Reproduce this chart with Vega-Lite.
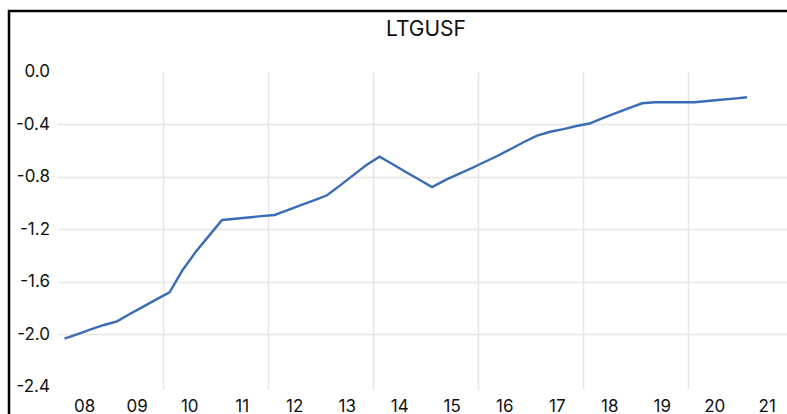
{
  "$schema": "https://vega.github.io/schema/vega-lite/v6.json",
  "autosize": "none",
  "width": 778,
  "height": 403,
  "padding": {"left": 9, "top": 11, "right": 0, "bottom": 0},
  "background": "white",
  "title": {
    "text": "LTGUSF",
    "frame": "group",
    "anchor": "middle",
    "dx": 28,
    "dy": 45.8,
    "offset": 0,
    "baseline": "alphabetic",
    "font": "Inter",
    "fontSize": 21,
    "fontWeight": "normal",
    "color": "#111111"
  },
  "data": {
    "values": [
      {"year": 2008.125, "value": -2.033},
      {"year": 2008.375, "value": -1.999},
      {"year": 2008.625, "value": -1.963},
      {"year": 2008.875, "value": -1.929},
      {"year": 2009.125, "value": -1.901},
      {"year": 2009.375, "value": -1.844},
      {"year": 2009.625, "value": -1.789},
      {"year": 2009.875, "value": -1.734},
      {"year": 2010.125, "value": -1.680},
      {"year": 2010.375, "value": -1.510},
      {"year": 2010.625, "value": -1.371},
      {"year": 2010.875, "value": -1.250},
      {"year": 2011.125, "value": -1.129},
      {"year": 2011.375, "value": -1.120},
      {"year": 2011.625, "value": -1.110},
      {"year": 2011.875, "value": -1.100},
      {"year": 2012.125, "value": -1.091},
      {"year": 2012.375, "value": -1.054},
      {"year": 2012.625, "value": -1.016},
      {"year": 2012.875, "value": -0.979},
      {"year": 2013.125, "value": -0.941},
      {"year": 2013.375, "value": -0.865},
      {"year": 2013.625, "value": -0.787},
      {"year": 2013.875, "value": -0.710},
      {"year": 2014.125, "value": -0.647},
      {"year": 2014.375, "value": -0.705},
      {"year": 2014.625, "value": -0.763},
      {"year": 2014.875, "value": -0.820},
      {"year": 2015.125, "value": -0.878},
      {"year": 2015.375, "value": -0.825},
      {"year": 2015.625, "value": -0.780},
      {"year": 2015.875, "value": -0.735},
      {"year": 2016.125, "value": -0.687},
      {"year": 2016.375, "value": -0.640},
      {"year": 2016.625, "value": -0.588},
      {"year": 2016.875, "value": -0.535},
      {"year": 2017.125, "value": -0.487},
      {"year": 2017.375, "value": -0.457},
      {"year": 2017.625, "value": -0.437},
      {"year": 2017.875, "value": -0.413},
      {"year": 2018.125, "value": -0.394},
      {"year": 2018.375, "value": -0.353},
      {"year": 2018.625, "value": -0.314},
      {"year": 2018.875, "value": -0.276},
      {"year": 2019.125, "value": -0.240},
      {"year": 2019.375, "value": -0.232},
      {"year": 2019.625, "value": -0.232},
      {"year": 2019.875, "value": -0.232},
      {"year": 2020.125, "value": -0.232},
      {"year": 2020.375, "value": -0.222},
      {"year": 2020.625, "value": -0.213},
      {"year": 2020.875, "value": -0.204},
      {"year": 2021.125, "value": -0.194}
    ]
  },
  "mark": {"type": "line", "color": "#3a6bb5", "strokeWidth": 2.4},
  "encoding": {
    "x": {
      "field": "year",
      "type": "quantitative",
      "scale": {"domain": [2007.0667, 2021.8857], "nice": false, "zero": false},
      "axis": {
        "orient": "bottom",
        "offset": -25,
        "title": null,
        "grid": false,
        "domain": false,
        "values": [2008.5, 2009.5, 2010.5, 2011.5, 2012.5, 2013.5, 2014.5, 2015.5, 2016.5, 2017.5, 2018.5, 2019.5, 2020.5, 2021.5, 2010, 2012, 2014, 2016, 2018, 2020],
        "labelExpr": "datum.value % 1 == 0 ? '' : format(floor(datum.value) % 100, '02d')",
        "labelOverlap": false,
        "labelFlush": false,
        "tickSize": -317,
        "tickColor": "#e6e6e6",
        "tickWidth": 1.5,
        "tickOpacity": {"condition": {"test": "datum.value % 1 == 0", "value": 1}, "value": 0},
        "labelPadding": 326,
        "labelFont": "Inter",
        "labelFontSize": 17,
        "labelColor": "#111111"
      }
    },
    "y": {
      "field": "value",
      "type": "quantitative",
      "scale": {"domain": [-2.6072, 0.4632], "nice": false, "zero": false},
      "axis": {
        "orient": "left",
        "offset": -48,
        "title": null,
        "grid": false,
        "domain": false,
        "values": [0, -0.4, -0.8, -1.2, -1.6, -2.0, -2.4],
        "labelExpr": "(datum.value < -0.001 ? '-' : '') + format(abs(datum.value), '.1f')",
        "labelFlush": false,
        "labelOverlap": false,
        "tickSize": -730,
        "tickColor": "#e6e6e6",
        "tickWidth": 1.5,
        "tickOpacity": {"condition": {"test": "datum.value < -0.1 && datum.value > -2.2", "value": 1}, "value": 0},
        "labelPadding": 737.5,
        "labelFont": "Inter",
        "labelFontSize": 17,
        "labelColor": "#111111"
      }
    }
  },
  "config": {
    "view": {"stroke": "#000000", "strokeWidth": 2.5, "strokeDash": [778, 1181, 403], "strokeCap": "square"}
  }
}
